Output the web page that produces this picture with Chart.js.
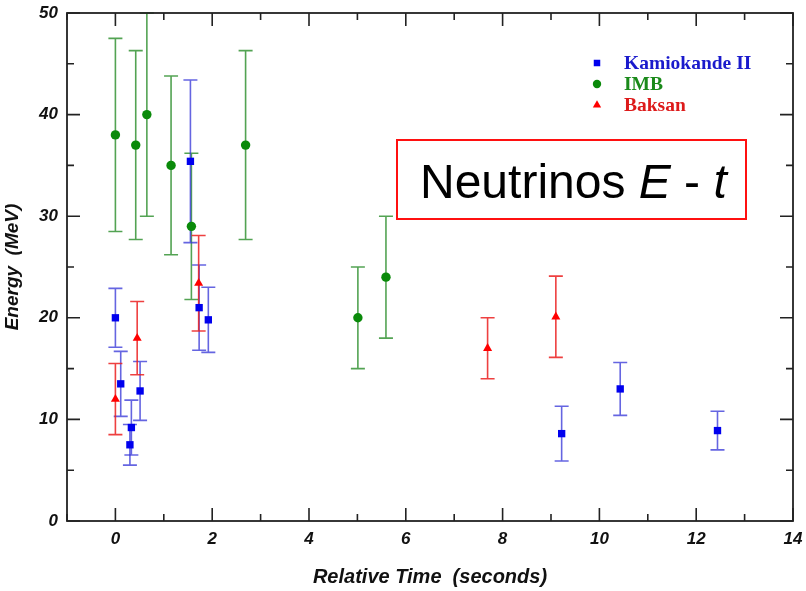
<!DOCTYPE html>
<html><head><meta charset="utf-8">
<script src="https://cdn.jsdelivr.net/npm/chart.js@4.4.0/dist/chart.umd.min.js"></script>
<style>html,body{margin:0;padding:0;background:#fff;}canvas{display:block;}</style>
</head><body>
<canvas id="c" width="806" height="591"></canvas>
<script>
// ---- data ----
const kamTime   = [0.00, 0.11, 0.30, 0.33, 0.51, 1.55, 1.73, 1.92, 9.22, 10.43, 12.44];
const kamEnergy = [20.0, 13.5, 7.5, 9.2, 12.8, 35.4, 21.0, 19.8, 8.6, 13.0, 8.9];
const kamError  = [2.9, 3.2, 2.0, 2.7, 2.9, 8.0, 4.2, 3.2, 2.7, 2.6, 1.9];

const imbTime   = [0.00, 0.42, 0.65, 1.15, 1.57, 2.69, 5.01, 5.59];
const imbEnergy = [38.0, 37.0, 40.0, 35.0, 29.0, 37.0, 20.0, 24.0];
const imbError  = [9.5, 9.3, 10.0, 8.8, 7.2, 9.3, 5.0, 6.0];

const bakTime   = [0.00, 0.45, 1.72, 7.69, 9.10];
const bakEnergy = [12.0, 18.0, 23.4, 17.0, 20.1];
const bakError  = [3.5, 3.6, 4.7, 3.0, 4.0];

const seriesNames = ['Kamiokande II', 'IMB', 'Baksan'];
const xTickLabels = [0, 2, 4, 6, 8, 10, 12, 14];
const yTickLabels = [0, 10, 20, 30, 40, 50];
const xTitle = 'Relative Time  (seconds)';
const yTitle = 'Energy  (MeV)';

// ---- styles ----
const COLORS    = ['#0000ee', '#0a8a0a', '#ff0000'];
const BARCOLORS = ['rgba(50,50,215,0.75)', 'rgba(40,140,40,0.8)', 'rgba(235,30,30,0.85)'];
const TEXTCOLORS = ['#1a1acc', '#1a8a1a', '#dd1a1a'];
const errors = [kamError, imbError, bakError];

function pts(t, e) { return t.map((x, i) => ({x: x, y: e[i]})); }

const errorBars = {
  id: 'errorBars',
  beforeDatasetsDraw(chart) {
    const {ctx, chartArea: a, scales: {x, y}} = chart;
    ctx.save();
    ctx.beginPath();
    ctx.rect(a.left, a.top - 1, a.right - a.left, a.bottom - a.top + 2);
    ctx.clip();
    ctx.lineWidth = 1.6;
    [1, 0, 2].forEach(di => {
      const ds = chart.data.datasets[di];
      ctx.strokeStyle = BARCOLORS[di];
      ds.data.forEach((p, i) => {
        const e = errors[di][i];
        const px = x.getPixelForValue(p.x);
        const y1 = y.getPixelForValue(p.y + e);
        const y0 = y.getPixelForValue(p.y - e);
        ctx.beginPath();
        ctx.moveTo(px, y1); ctx.lineTo(px, y0);
        ctx.moveTo(px - 7, y1); ctx.lineTo(px + 7, y1);
        ctx.moveTo(px - 7, y0); ctx.lineTo(px + 7, y0);
        ctx.stroke();
      });
    });
    ctx.restore();
  }
};

const frame = {
  id: 'frame',
  afterDatasetsDraw(chart) {
    const {ctx, chartArea: a, scales: {x, y}} = chart;
    ctx.save();
    ctx.strokeStyle = '#222';
    ctx.lineWidth = 1.6;
    ctx.beginPath();
    for (let v = -1; v <= 14; v++) {
      const px = x.getPixelForValue(v);
      const len = (v % 2 === 0) ? 13 : 7;
      ctx.moveTo(px, a.bottom); ctx.lineTo(px, a.bottom - len);
      ctx.moveTo(px, a.top); ctx.lineTo(px, a.top + len);
    }
    for (let v = 0; v <= 50; v += 5) {
      const py = y.getPixelForValue(v);
      const len = (v % 10 === 0) ? 13 : 7;
      ctx.moveTo(a.left, py); ctx.lineTo(a.left + len, py);
      ctx.moveTo(a.right, py); ctx.lineTo(a.right - len, py);
    }
    ctx.stroke();
    ctx.lineWidth = 1.8;
    ctx.strokeRect(a.left, a.top, a.right - a.left, a.bottom - a.top);
    ctx.restore();
  },
  afterDraw(chart) {
    const {ctx, chartArea: a} = chart;
    ctx.save();
    // legend
    const styles = ['rect', 'circle', 'triangle'];
    const radii = [4.6, 4.2, 4.8];
    const lx = a.left + 530, ly = a.top + 50, step = 21;
    ctx.font = 'bold 19.5px "Liberation Serif", "Times New Roman", serif';
    ctx.textBaseline = 'middle';
    ctx.textAlign = 'left';
    seriesNames.forEach((name, i) => {
      ctx.fillStyle = COLORS[i];
      ctx.strokeStyle = COLORS[i];
      Chart.helpers.drawPoint(ctx, {pointStyle: styles[i], radius: radii[i], rotation: 0, borderWidth: 0}, lx, ly + i * step);
      ctx.fillStyle = TEXTCOLORS[i];
      ctx.fillText(name, lx + 27, ly + i * step + 1);
    });
    // annotation box
    const bx = a.left + 330, by = a.top + 127, bw = 349, bh = 79;
    ctx.strokeStyle = '#ff1010';
    ctx.lineWidth = 2;
    ctx.strokeRect(bx, by, bw, bh);
    ctx.fillStyle = '#000';
    ctx.textBaseline = 'alphabetic';
    const parts = [['Neutrinos ', ''], ['E', 'italic '], [' - ', ''], ['t', 'italic ']];
    let tx = bx + 23;
    const base = by + 58;
    parts.forEach(([s, st]) => {
      ctx.font = st + '48px "Liberation Sans", Arial, sans-serif';
      ctx.fillText(s, tx, base);
      tx += ctx.measureText(s).width;
    });
    ctx.restore();
  }
};

const tickFont = {family: '"Liberation Sans", Arial, sans-serif', size: 17, weight: 'bold', style: 'italic'};
const xTitleFont = {family: '"Liberation Sans", Arial, sans-serif', size: 20, weight: 'bold', style: 'italic'};
const yTitleFont = {family: '"Liberation Sans", Arial, sans-serif', size: 19, weight: 'bold', style: 'italic'};

new Chart(document.getElementById('c'), {
  type: 'scatter',
  data: {
    datasets: [
      {label: seriesNames[0], data: pts(kamTime, kamEnergy), pointStyle: 'rect', pointRadius: 5.2,
       backgroundColor: COLORS[0], borderColor: COLORS[0], borderWidth: 0},
      {label: seriesNames[1], data: pts(imbTime, imbEnergy), pointStyle: 'circle', pointRadius: 4.7,
       backgroundColor: COLORS[1], borderColor: COLORS[1], borderWidth: 0},
      {label: seriesNames[2], data: pts(bakTime, bakEnergy), pointStyle: 'triangle', pointRadius: 5.2,
       backgroundColor: COLORS[2], borderColor: COLORS[2], borderWidth: 0}
    ]
  },
  options: {
    responsive: false,
    animation: false,
    devicePixelRatio: 1,
    layout: {padding: {left: 0, right: 13, top: 13, bottom: 0}},
    plugins: {legend: {display: false}, tooltip: {enabled: false}},
    scales: {
      x: {
        type: 'linear', min: -1, max: 14,
        grid: {display: false}, border: {display: false},
        afterBuildTicks(s) { s.ticks = xTickLabels.map(v => ({value: v})); },
        ticks: {font: tickFont, color: '#111', padding: 0, maxRotation: 0, autoSkip: false,
                callback: v => String(v)},
        title: {display: true, text: xTitle, font: xTitleFont, color: '#111', padding: {top: 0, bottom: 2}},
        afterFit(s) { s.height = 70; s.paddingLeft = 0; s.paddingRight = 0; }
      },
      y: {
        type: 'linear', min: 0, max: 50,
        grid: {display: false}, border: {display: false},
        afterBuildTicks(s) { s.ticks = yTickLabels.map(v => ({value: v})); },
        ticks: {font: tickFont, color: '#111', padding: 1, callback: v => String(v)},
        title: {display: true, text: yTitle, font: yTitleFont, color: '#111', padding: {top: 1, bottom: 0}},
        afterFit(s) { s.width = 67; s.paddingTop = 0; s.paddingBottom = 0; }
      }
    }
  },
  plugins: [errorBars, frame]
});
</script>
</body></html>
